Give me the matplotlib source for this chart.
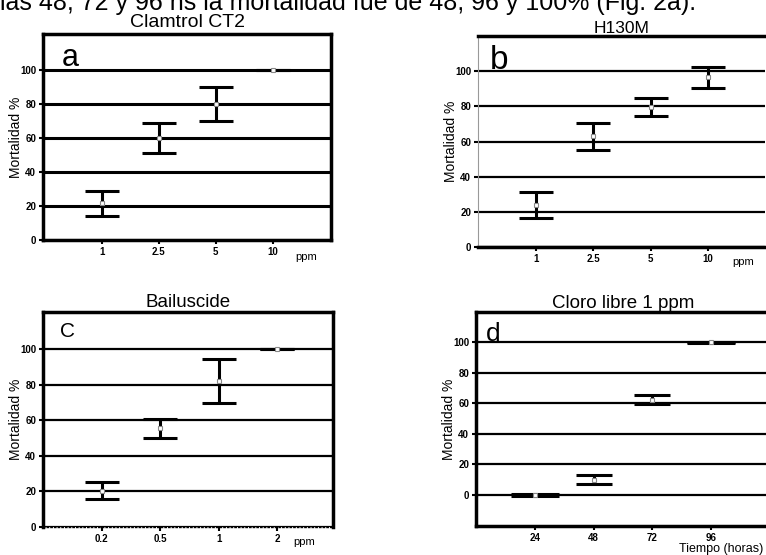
import numpy as np
import matplotlib
matplotlib.use("Agg")
import matplotlib.pyplot as plt

plt.rcParams["font.family"] = ["Liberation Sans", "DejaVu Sans"]

# datos (mortalidad %, media y error)
a_labels = ["1", "2.5", "5", "10"]
a_mean = [21.5, 60, 80, 100]
a_err = [7.5, 8.8, 10, 0]

b_labels = ["1", "2.5", "5", "10"]
b_mean = [24, 63, 79.5, 96.5]
b_err = [7.5, 7.7, 5, 5.9]

c_labels = ["0.2", "0.5", "1", "2"]
c_mean = [20.5, 55.5, 82, 100]
c_err = [5, 5.3, 12.3, 0]

d_labels = ["24", "48", "72", "96"]
d_mean = [0, 10, 62.3, 100]
d_err = [0.8, 2.7, 3, 0.5]

yticks = [0, 20, 40, 60, 80, 100]

W, H = 766, 555
fig = plt.figure(figsize=(W / 100, H / 100), dpi=100)


def px_axes(left, top, right, bottom):
    return fig.add_axes([left / W, 1 - bottom / H, (right - left) / W, (bottom - top) / H])


def panel(ax, labels, mean, err, ylim, xlim, grid_lw, caps, letter, letter_size, letter_x):
    x = np.arange(len(labels))
    for yy in yticks:
        ax.axhline(yy, color="black", lw=grid_lw, zorder=1)
    for i in range(len(labels)):
        ax.errorbar(x[i], mean[i], yerr=err[i], fmt="none", ecolor="black",
                    elinewidth=2.2, capsize=caps[i], capthick=2.2, zorder=3)
    ax.plot(x, mean, ls="none", marker="s", ms=3.5, mfc="white", mec="#888888",
            mew=0.8, zorder=4)
    ax.set_xlim(*xlim)
    ax.set_ylim(*ylim)
    ax.set_xticks(x)
    ax.set_xticklabels(labels)
    ax.set_yticks(yticks)
    ax.set_yticklabels([str(v) for v in yticks])
    ax.tick_params(labelsize=7, length=3, width=1.5, pad=2)
    for lab in ax.get_xticklabels() + ax.get_yticklabels():
        lab.set_fontweight("bold")
    ax.set_ylabel("Mortalidad %", fontsize=10, labelpad=-2)
    ax.text(letter_x, 0.955, letter, transform=ax.transAxes, fontsize=letter_size,
            va="top", ha="left")
    for s in ax.spines.values():
        s.set_linewidth(2.5)


# texto del documento cortado arriba
fig.text(0.0, 1 - 10 / H, "las 48, 72 y 96 hs la mortalidad fue de 48, 96 y 100% (Fig. 2a).",
         fontsize=18, va="baseline", ha="left")

# a
ax_a = px_axes(43, 34, 331, 240)
panel(ax_a, a_labels, a_mean, a_err, (0, 121), (-1.03, 4.02), 2.2, [12] * 4, "a", 22, 0.065)
ax_a.set_title("Clamtrol CT2", fontsize=14, pad=5)
ax_a.text(0.913, -0.083, "ppm", transform=ax_a.transAxes, fontsize=8, ha="center", va="center")

# b
ax_b = px_axes(478, 36, 765, 247)
panel(ax_b, b_labels, b_mean, b_err, (0, 120), (-1.02, 4.0), 1.6, [12.5] * 4, "b", 24, 0.04)
ax_b.set_title("H130M", fontsize=12.5, pad=2)
ax_b.spines["left"].set_linewidth(0.8)
ax_b.spines["left"].set_color("#999999")
ax_b.spines["right"].set_visible(False)
ax_b.text(0.923, -0.071, "ppm", transform=ax_b.transAxes, fontsize=8, ha="center", va="center")

# c
ax_c = px_axes(43, 312, 333, 527)
panel(ax_c, c_labels, c_mean, c_err, (0, 121), (-1.01, 3.96), 1.6, [12] * 4, "C", 15, 0.06)
ax_c.set_title("Bailuscide", fontsize=13.5, pad=3.5)
ax_c.spines["bottom"].set_linewidth(1.0)
ax_c.spines["bottom"].set_linestyle(":")
ax_c.text(0.9, -0.07, "ppm", transform=ax_c.transAxes, fontsize=8, ha="center", va="center")

# d
ax_d = px_axes(476, 312, 770, 526)
panel(ax_d, d_labels, d_mean, d_err, (-20.5, 120), (-1.0, 4.0), 1.6, [17, 13, 13, 17], "d", 19, 0.035)
ax_d.set_title("Cloro libre 1 ppm", fontsize=13.5, pad=3)
ax_d.spines["right"].set_visible(False)
ax_d.text(0.69, -0.108, "Tiempo (horas)", transform=ax_d.transAxes, fontsize=9, ha="left", va="center")

fig.savefig("out.png", dpi=100)
